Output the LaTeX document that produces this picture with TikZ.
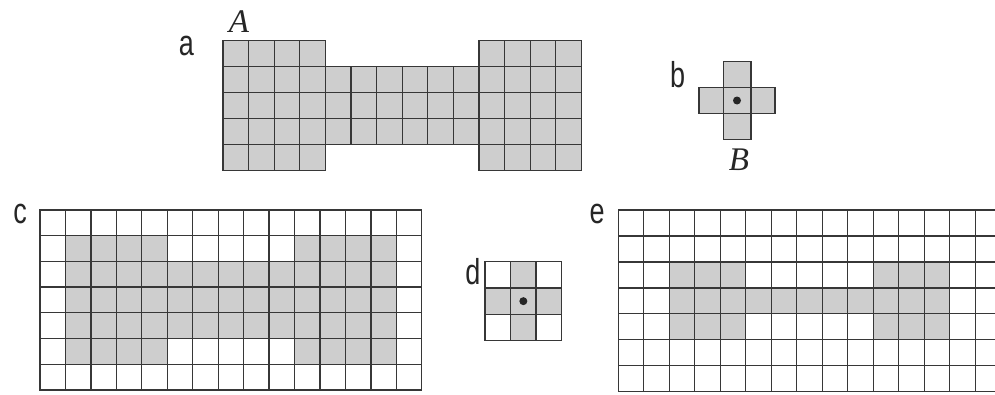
\documentclass[tikz,border=0pt]{standalone}
\usepackage{fontspec}
\newfontfamily\labfont{Liberation Sans}
\newfontfamily\serfont{Liberation Serif}
\definecolor{shade}{RGB}{206,206,206}
\definecolor{lineclr}{RGB}{55,55,55}
\tikzset{
  lab/.style={font=\labfont\fontsize{36}{40}\selectfont, anchor=base, inner sep=0pt, xscale=0.75, text=black!85},
  ital/.style={font=\serfont\itshape\fontsize{33}{36}\selectfont, anchor=base, inner sep=0pt, text=black!85},
  cellbox/.style={fill=shade, draw=lineclr, line width=1.3pt},
  shadecell/.style={fill=shade},
  gridline/.style={draw=lineclr, line width=1.3pt, line cap=rect},
  centerdot/.style={fill=black!85, draw=none},
}
\begin{document}
\begin{tikzpicture}[x=1pt, y=-1pt]
\useasboundingbox (0,0) rectangle (995,394);
\clip (0,0) rectangle (995,394);

% ---- panel a : set A
\begin{scope}[shift={(223,40.7)}, x=25.6pt, y=-25.9pt]
  \foreach \c in {0,1,2,3,10,11,12,13}
    \foreach \r in {0,...,4}
      \draw[cellbox] (\c,\r) rectangle ++(1,1);
  \foreach \c in {4,...,9}
    \foreach \r in {1,2,3}
      \draw[cellbox] (\c,\r) rectangle ++(1,1);
\end{scope}
\node[lab]  (la) at (186.5,55) {a};
\node[ital] (lA) at (239,32) {A};

% ---- panel b : structuring element B
\fill[shadecell] (723.3,61.7) rectangle (751,139.3);
\fill[shadecell] (699,87.7) rectangle (775,113.3);
\draw[gridline] (723.3,61.7) rectangle (751,139.3);
\draw[gridline] (699,87.7) rectangle (775,113.3);
\fill[centerdot] (737,100.5) circle (4);
\node[lab]  (lb) at (677.5,87) {b};
\node[ital] (lB) at (739,170) {B};

% ---- panel c
\begin{scope}[shift={(40,210)}, x=25.45pt, y=-25.7pt]
  \fill[shadecell] (1,1) rectangle (5,6);
  \fill[shadecell] (10,1) rectangle (14,6);
  \fill[shadecell] (5,2) rectangle (10,5);
  \foreach \c in {0,...,15} \draw[gridline] (\c,0) -- (\c,7);
  \foreach \r in {0,...,7} \draw[gridline] (0,\r) -- (15,\r);
\end{scope}
\node[lab] (lc) at (20,223) {c};

% ---- panel d
\begin{scope}[shift={(485,261.7)}, x=25.56pt, y=-26.3pt]
  \fill[shadecell] (1,0) rectangle (2,3);
  \fill[shadecell] (0,1) rectangle (3,2);
  \foreach \c in {0,...,3} \draw[gridline] (\c,0) -- (\c,3);
  \foreach \r in {0,...,3} \draw[gridline] (0,\r) -- (3,\r);
  \fill[centerdot] (1.5,1.5) circle (4pt);
\end{scope}
\node[lab] (ld) at (473,284) {d};

% ---- panel e
\begin{scope}[shift={(618.3,210)}, x=25.5pt, y=-25.95pt]
  \fill[shadecell] (2,2) rectangle (5,5);
  \fill[shadecell] (10,2) rectangle (13,5);
  \fill[shadecell] (5,3) rectangle (10,4);
  \foreach \c in {0,...,15} \draw[gridline] (\c,0) -- (\c,7);
  \foreach \r in {0,...,7} \draw[gridline] (0,\r) -- (15,\r);
\end{scope}
\node[lab] (le) at (597,223) {e};
\end{tikzpicture}
\end{document}
